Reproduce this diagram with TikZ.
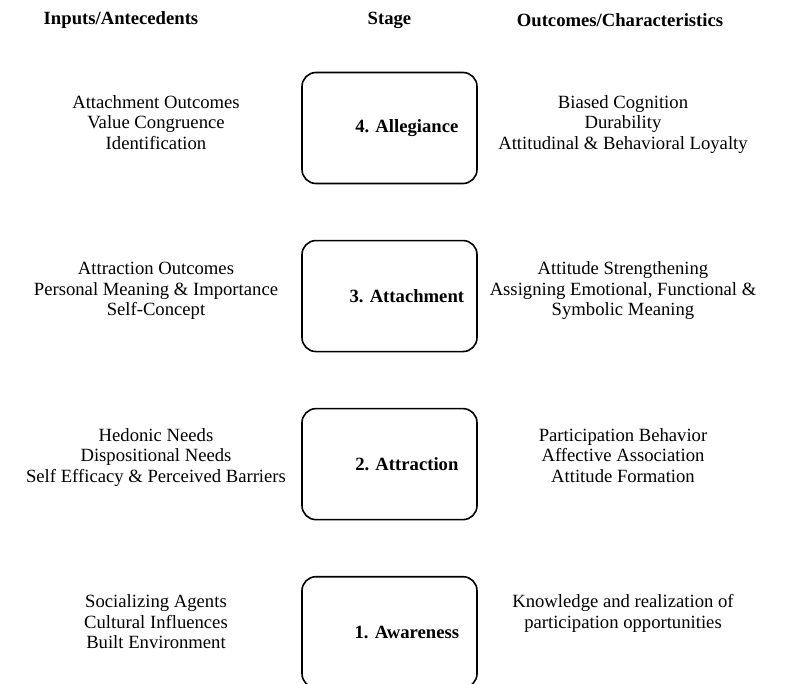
\documentclass[tikz,border=0pt]{standalone}
\usepackage{fontspec}
\setmainfont{Liberation Serif}
\usetikzlibrary{positioning}
\newcommand{\diagfont}{\fontsize{14pt}{15.4pt}\selectfont}
% labels sit a little right of the box centre
\newcommand{\stagelabel}[1]{\hspace*{26pt}#1}
\tikzstyle{stagebox}=[
draw,
line width=1.2pt,
rounded corners=10.5pt,
minimum width=131.25pt,
minimum height=83.25pt,
text centered,
font=\diagfont\bfseries
]
\tikzstyle{heading}=[
font=\diagfont\bfseries
]
\tikzstyle{sidetext}=[
font=\diagfont
]

\begin{document}
\begin{tikzpicture}[x=0.75pt,y=-0.75pt,node distance=41.6pt]
\useasboundingbox (0,0) rectangle (788,684);

\node (hinputs) [heading] at (121,20) {Inputs/Antecedents};
\node (hstage) [heading] at (389.5,20) {Stage};
\node (houtcomes) [heading] at (620,20) {Outcomes/Characteristics};

\node (allegiance) [stagebox] at (389.5,128) {\stagelabel{4. Allegiance}};
\node (attachment) [stagebox, below=of allegiance] {\stagelabel{3. Attachment}};
\node (attraction) [stagebox, below=of attachment] {\stagelabel{2. Attraction}};
\node (awareness) [stagebox, below=of attraction] {\stagelabel{1. Awareness}};

\node (in4) [sidetext] at (156,124.5) {
\begin{tabular}{c}
Attachment Outcomes\\
Value Congruence\\
Identification
\end{tabular}
};

\node (out4) [sidetext] at (623,124.5) {
\begin{tabular}{c}
Biased Cognition\\
Durability\\
Attitudinal \& Behavioral Loyalty
\end{tabular}
};

\node (in3) [sidetext] at (156,291) {
\begin{tabular}{c}
Attraction Outcomes\\
Personal Meaning \& Importance\\
Self-Concept
\end{tabular}
};

\node (out3) [sidetext] at (623,291) {
\begin{tabular}{c}
Attitude Strengthening\\
Assigning Emotional, Functional \&\\
Symbolic Meaning
\end{tabular}
};

\node (in2) [sidetext] at (156,457.5) {
\begin{tabular}{c}
Hedonic Needs\\
Dispositional Needs\\
Self Efficacy \& Perceived Barriers
\end{tabular}
};

\node (out2) [sidetext] at (623,457.5) {
\begin{tabular}{c}
Participation Behavior\\
Affective Association\\
Attitude Formation
\end{tabular}
};

\node (in1) [sidetext] at (156,624) {
\begin{tabular}{c}
Socializing Agents\\
Cultural Influences\\
Built Environment
\end{tabular}
};

\node (out1) [sidetext] at (623,614) {
\begin{tabular}{c}
Knowledge and realization of\\
participation opportunities
\end{tabular}
};

\end{tikzpicture}
\end{document}
